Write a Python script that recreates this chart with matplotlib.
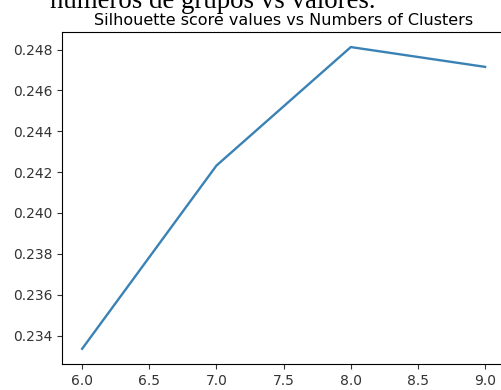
import matplotlib
matplotlib.use('Agg')
import matplotlib.pyplot as plt

clusters = [6, 7, 8, 9]
scores = [0.23335, 0.24232, 0.24812, 0.24715]

fig = plt.figure(figsize=(5.02, 3.90), dpi=100)
ax = fig.add_axes([0.1235, 0.067, 0.883, 0.851])

ax.plot(clusters, scores, color='#3a82b5', linewidth=1.7)
ax.set_title('Silhouette score values vs Numbers of Clusters', fontsize=11.5, pad=5)
ax.set_yticks([0.234, 0.236, 0.238, 0.240, 0.242, 0.244, 0.246, 0.248])
ax.set_xticks([6.0, 6.5, 7.0, 7.5, 8.0, 8.5, 9.0])
ax.tick_params(labelsize=10, colors='#333333')

# caption line of the surrounding document, clipped at the top edge
fig.text(0.0996, 0.9795, 'números de grupos vs valores.', fontsize=19.4,
         family='Liberation Serif', ha='left', va='baseline')

fig.savefig('out.png', dpi=100)
